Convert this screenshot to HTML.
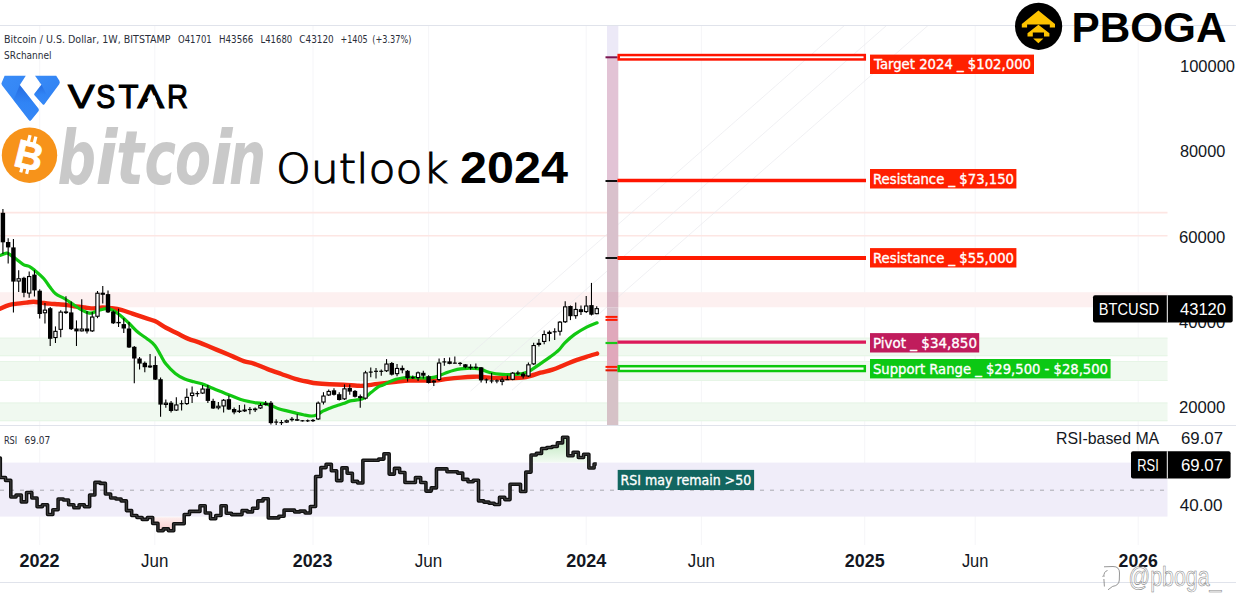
<!DOCTYPE html>
<html><head><meta charset="utf-8"><title>Bitcoin Outlook 2024</title>
<style>
html,body{margin:0;padding:0;background:#fff;}
body{width:1236px;height:616px;overflow:hidden;position:relative;}
svg{position:absolute;left:0;top:0;display:block;}
.t{font-family:"Liberation Sans","Noto Sans CJK SC",sans-serif;}
.leg{font-size:10.5px;fill:#2a2e39;font-family:"DejaVu Sans","Liberation Sans",sans-serif;}
.ax{font-size:17px;fill:#131722;}
.tm{font-size:18px;fill:#131722;}
.yr{font-weight:bold;}
.lab{font-size:13.5px;fill:#fff;stroke:#fff;stroke-width:0.35;font-family:"DejaVu Sans","Liberation Sans",sans-serif;}
</style></head>
<body>
<svg width="1236" height="616" viewBox="0 0 1236 616">
<line x1="39.7" y1="25" x2="39.7" y2="545" stroke="#f5f5f8" stroke-width="1"/>
<line x1="154.8" y1="25" x2="154.8" y2="545" stroke="#f5f5f8" stroke-width="1"/>
<line x1="313" y1="25" x2="313" y2="545" stroke="#f5f5f8" stroke-width="1"/>
<line x1="428.6" y1="25" x2="428.6" y2="545" stroke="#f5f5f8" stroke-width="1"/>
<line x1="586.2" y1="25" x2="586.2" y2="545" stroke="#f5f5f8" stroke-width="1"/>
<line x1="701.4" y1="25" x2="701.4" y2="545" stroke="#f5f5f8" stroke-width="1"/>
<line x1="864.7" y1="25" x2="864.7" y2="545" stroke="#f5f5f8" stroke-width="1"/>
<line x1="975.2" y1="25" x2="975.2" y2="545" stroke="#f5f5f8" stroke-width="1"/>
<line x1="1138.2" y1="25" x2="1138.2" y2="545" stroke="#f5f5f8" stroke-width="1"/>
<line x1="0" y1="212.6" x2="1167.5" y2="212.6" stroke="#fde6e3" stroke-width="1.6"/>
<line x1="0" y1="235.7" x2="1167.5" y2="235.7" stroke="#fde6e3" stroke-width="1.6"/>
<rect x="0" y="292.2" width="1167.5" height="15.1" fill="#fdf0f0"/>
<rect x="0" y="337.7" width="1167.5" height="18.5" fill="#f0f9f0"/>
<line x1="0" y1="338.2" x2="1167.5" y2="338.2" stroke="#e6f5e6" stroke-width="1"/>
<line x1="0" y1="355.7" x2="1167.5" y2="355.7" stroke="#e6f5e6" stroke-width="1"/>
<rect x="0" y="361" width="1167.5" height="20.0" fill="#f0f9f0"/>
<line x1="0" y1="361.5" x2="1167.5" y2="361.5" stroke="#e6f5e6" stroke-width="1"/>
<line x1="0" y1="380.5" x2="1167.5" y2="380.5" stroke="#e6f5e6" stroke-width="1"/>
<rect x="0" y="402.5" width="1167.5" height="18.7" fill="#f0f9f0"/>
<line x1="0" y1="403.0" x2="1167.5" y2="403.0" stroke="#e6f5e6" stroke-width="1"/>
<line x1="0" y1="420.7" x2="1167.5" y2="420.7" stroke="#e6f5e6" stroke-width="1"/>
<line x1="427.8" y1="391.7" x2="844.4" y2="25.5" stroke="#e9e9ee" stroke-width="0.7"/>
<line x1="470.6" y1="391" x2="886.5" y2="25.5" stroke="#e9e9ee" stroke-width="0.7"/>
<line x1="512" y1="390.2" x2="928" y2="25.5" stroke="#e9e9ee" stroke-width="0.7"/>
<rect x="607" y="25.5" width="11.3" height="31.5" fill="#ece9f7"/>
<rect x="607" y="57" width="11.3" height="123.5" fill="#e2c3d5"/>
<rect x="607" y="180.5" width="11.3" height="111.5" fill="#d9c1cc"/>
<rect x="607" y="292" width="11.3" height="15.3" fill="#d9b6c4"/>
<rect x="607" y="307.3" width="11.3" height="10.7" fill="#d9c1cc"/>
<rect x="607" y="318" width="11.3" height="54.0" fill="#e0a8bb"/>
<rect x="607" y="372" width="11.3" height="53.0" fill="#d6c2c7"/>
<line x1="605.5" y1="57.3" x2="617.5" y2="57.3" stroke="#7a1450" stroke-width="2"/>
<line x1="605.5" y1="181" x2="617.5" y2="181" stroke="#111111" stroke-width="2"/>
<line x1="605.5" y1="258" x2="617.5" y2="258" stroke="#111111" stroke-width="2"/>
<line x1="605.5" y1="316.9" x2="617.5" y2="316.9" stroke="#ff1a00" stroke-width="2"/>
<line x1="605.5" y1="319.9" x2="617.5" y2="319.9" stroke="#ff1a00" stroke-width="2"/>
<line x1="605.5" y1="343" x2="617.5" y2="343" stroke="#19c819" stroke-width="2.2"/>
<line x1="605.5" y1="366.9" x2="617.5" y2="366.9" stroke="#ff1a00" stroke-width="2"/>
<line x1="605.5" y1="370.3" x2="617.5" y2="370.3" stroke="#e01a00" stroke-width="2"/>
<rect x="618.7" y="55.05" width="246.1" height="4.4" fill="#fff" stroke="#ff1400" stroke-width="2.5"/>
<line x1="617.5" y1="180.5" x2="866" y2="180.5" stroke="#ff1400" stroke-width="3.6"/>
<line x1="617.5" y1="258" x2="866" y2="258" stroke="#ff1a00" stroke-width="3.8"/>
<line x1="617.5" y1="342.1" x2="866" y2="342.1" stroke="#dc1a5a" stroke-width="3.4"/>
<rect x="618.7" y="366.2" width="246.1" height="4.8" fill="#fff" stroke="#0cc80c" stroke-width="2.5"/>
<path d="M0,308.7 C1.47,308.1 5.88,305.95 8.8,305.1 C11.72,304.25 14.58,304.02 17.5,303.6 C20.42,303.18 23.62,302.9 26.3,302.6 C28.98,302.3 31.17,301.8 33.6,301.8 C36.03,301.8 38.22,302.3 40.9,302.6 C43.58,302.9 46.77,303.32 49.7,303.6 C52.63,303.88 55.57,304.05 58.5,304.3 C61.43,304.55 64.38,304.73 67.3,305.1 C70.22,305.47 73.08,306.1 76,306.5 C78.92,306.9 81.87,307.18 84.8,307.5 C87.73,307.82 90.68,308.4 93.6,308.4 C96.52,308.4 99.38,307.53 102.3,307.5 C105.22,307.47 107.95,307.8 111.1,308.2 C114.25,308.6 117.65,308.98 121.2,309.9 C124.75,310.82 128.67,312.45 132.4,313.7 C136.13,314.95 139.87,316.17 143.6,317.4 C147.33,318.63 151.07,319.38 154.8,321.1 C158.53,322.82 162.27,325.67 166,327.7 C169.73,329.73 173.47,331.43 177.2,333.3 C180.93,335.17 184.67,337.35 188.4,338.9 C192.13,340.45 195.87,341.2 199.6,342.6 C203.33,344 207.07,345.75 210.8,347.3 C214.53,348.85 218.27,350.35 222,351.9 C225.73,353.45 229.47,355.03 233.2,356.6 C236.93,358.17 240.97,360.13 244.4,361.3 C247.83,362.47 249.93,362.3 253.8,363.6 C257.67,364.9 263,367.37 267.6,369.1 C272.2,370.83 276.8,372.38 281.4,374 C286,375.62 290.6,377.47 295.2,378.8 C299.8,380.13 305.55,381.25 309,382 C312.45,382.75 312.45,382.92 315.9,383.3 C319.35,383.68 325.12,384.07 329.7,384.3 C334.28,384.53 338.82,384.47 343.4,384.7 C347.98,384.93 353.75,385.53 357.2,385.7 C360.65,385.87 360.65,386 364.1,385.7 C367.55,385.4 372.6,384.53 377.9,383.9 C383.2,383.27 390.75,382.45 395.9,381.9 C401.05,381.35 404.48,380.82 408.8,380.6 C413.12,380.38 417.48,380.6 421.8,380.6 C426.12,380.6 430.38,380.88 434.7,380.6 C439.02,380.32 443.38,379.4 447.7,378.9 C452.02,378.4 456.28,377.97 460.6,377.6 C464.92,377.23 470.37,376.85 473.6,376.7 C476.83,376.55 477.85,376.58 480,376.7 C482.15,376.82 483.27,377.18 486.5,377.4 C489.73,377.62 495.08,377.9 499.4,378 C503.72,378.1 508.6,378.07 512.4,378 C516.2,377.93 519.15,377.97 522.2,377.6 C525.25,377.23 527.65,376.62 530.7,375.8 C533.75,374.98 536.85,373.72 540.5,372.7 C544.15,371.68 548.55,371.02 552.6,369.7 C556.65,368.38 560.73,366.43 564.8,364.8 C568.87,363.17 572.93,361.37 577,359.9 C581.07,358.43 585.85,357.05 589.2,356 C592.55,354.95 595.78,354 597.1,353.6" fill="none" stroke="#f5280f" stroke-width="4.4" stroke-linecap="round" stroke-linejoin="round"/>
<path d="M0,255.4 C1.1,255.03 5.13,253.45 6.6,253.2 C8.07,252.95 7.22,252.93 8.8,253.9 C10.38,254.87 13.67,257.22 16.1,259 C18.53,260.78 21.22,263.38 23.4,264.6 C25.58,265.82 27.25,265.28 29.2,266.3 C31.15,267.32 32.65,268.63 35.1,270.7 C37.55,272.77 41.47,276.02 43.9,278.7 C46.33,281.38 47.75,284.28 49.7,286.8 C51.65,289.32 53.17,291.85 55.6,293.8 C58.03,295.75 61.38,296.75 64.3,298.5 C67.22,300.25 70.17,302.35 73.1,304.3 C76.03,306.25 79.22,308.73 81.9,310.2 C84.58,311.67 87.25,312.73 89.2,313.1 C91.15,313.47 91.9,312.88 93.6,312.4 C95.3,311.92 96.97,310.82 99.4,310.2 C101.83,309.58 105.27,308.25 108.2,308.7 C111.13,309.15 113.58,310.52 117,312.9 C120.42,315.28 125.2,319.77 128.7,323 C132.2,326.23 134.9,329.65 138,332.3 C141.1,334.95 144.5,336.72 147.3,338.9 C150.1,341.08 152.62,342.77 154.8,345.4 C156.98,348.03 158.53,351.58 160.4,354.7 C162.27,357.82 163.52,360.98 166,364.1 C168.48,367.22 172.18,370.92 175.3,373.4 C178.42,375.88 181.58,377.6 184.7,379 C187.82,380.4 190.9,380.93 194,381.8 C197.1,382.67 200.18,383.12 203.3,384.2 C206.42,385.28 209.58,386.98 212.7,388.3 C215.82,389.62 218.9,390.85 222,392.1 C225.1,393.35 228.18,394.57 231.3,395.8 C234.42,397.03 237.58,398.5 240.7,399.5 C243.82,400.5 247.35,401.23 250,401.8 C252.65,402.37 254.13,402.6 256.6,402.9 C259.07,403.2 262.28,403.13 264.8,403.6 C267.32,404.07 269.4,404.85 271.7,405.7 C274,406.55 276.07,407.83 278.6,408.7 C281.13,409.57 284.13,410.2 286.9,410.9 C289.67,411.6 292.45,412.27 295.2,412.9 C297.95,413.53 300.65,414.18 303.4,414.7 C306.15,415.22 309.4,416 311.7,416 C314,416 315.35,415.5 317.2,414.7 C319.05,413.9 320.72,412.28 322.8,411.2 C324.88,410.12 327.4,409.12 329.7,408.2 C332,407.28 334.32,406.47 336.6,405.7 C338.88,404.93 341.12,404.4 343.4,403.6 C345.68,402.8 348,401.52 350.3,400.9 C352.6,400.28 354.9,400.37 357.2,399.9 C359.5,399.43 361.8,399.32 364.1,398.1 C366.4,396.88 368.7,394.43 371,392.6 C373.3,390.77 375.92,388.35 377.9,387.1 C379.88,385.85 380.98,385.97 382.9,385.1 C384.82,384.23 387.23,382.87 389.4,381.9 C391.57,380.93 393.73,379.95 395.9,379.3 C398.07,378.65 400.25,378.32 402.4,378 C404.55,377.68 406.65,377.47 408.8,377.4 C410.95,377.33 413.13,377.5 415.3,377.6 C417.47,377.7 419.63,377.93 421.8,378 C423.97,378.07 426.15,378.15 428.3,378 C430.45,377.85 432.55,377.63 434.7,377.1 C436.85,376.57 439.03,375.62 441.2,374.8 C443.37,373.98 445.55,372.97 447.7,372.2 C449.85,371.43 451.95,370.75 454.1,370.2 C456.25,369.65 458.43,369.22 460.6,368.9 C462.77,368.58 464.93,368.4 467.1,368.3 C469.27,368.2 471.45,368.2 473.6,368.3 C475.75,368.4 477.85,368.37 480,368.9 C482.15,369.43 484.33,370.78 486.5,371.5 C488.67,372.22 490.85,372.77 493,373.2 C495.15,373.63 497.25,373.88 499.4,374.1 C501.55,374.32 503.73,374.43 505.9,374.5 C508.07,374.57 510.23,374.57 512.4,374.5 C514.57,374.43 516.75,374.38 518.9,374.1 C521.05,373.82 523.33,373.43 525.3,372.8 C527.27,372.17 528.17,371.83 530.7,370.3 C533.23,368.77 537.25,365.83 540.5,363.6 C543.75,361.37 547.17,359.13 550.2,356.9 C553.23,354.67 556.27,352.53 558.7,350.2 C561.13,347.87 562.15,345.53 564.8,342.9 C567.45,340.27 570.95,337.03 574.6,334.4 C578.25,331.77 582.95,329.03 586.7,327.1 C590.45,325.17 595.37,323.52 597.1,322.8" fill="none" stroke="#12c812" stroke-width="3.2" stroke-linecap="round" stroke-linejoin="round"/>
<line x1="2.92" y1="209" x2="2.92" y2="254" stroke="#000" stroke-width="1.1"/>
<rect x="0.72" y="212.8" width="4.4" height="29.5" fill="#000"/>
<line x1="8.17" y1="238.2" x2="8.17" y2="263.5" stroke="#000" stroke-width="1.1"/>
<rect x="5.97" y="242" width="4.4" height="5.4" fill="#000"/>
<line x1="13.43" y1="239" x2="13.43" y2="312.6" stroke="#000" stroke-width="1.1"/>
<rect x="11.23" y="247.4" width="4.4" height="34.2" fill="#000"/>
<line x1="18.68" y1="270.2" x2="18.68" y2="292.1" stroke="#000" stroke-width="1.1"/>
<rect x="17.03" y="278.75" width="3.3" height="2.3" fill="#fff" stroke="#000" stroke-width="1.1"/>
<line x1="23.94" y1="276.8" x2="23.94" y2="297.2" stroke="#000" stroke-width="1.1"/>
<rect x="21.74" y="277.8" width="4.4" height="15" fill="#000"/>
<line x1="29.19" y1="271.4" x2="29.19" y2="297.7" stroke="#000" stroke-width="1.1"/>
<rect x="27.54" y="276.55" width="3.3" height="16.5" fill="#fff" stroke="#000" stroke-width="1.1"/>
<line x1="34.45" y1="270.2" x2="34.45" y2="296.5" stroke="#000" stroke-width="1.1"/>
<rect x="32.24" y="274.6" width="4.4" height="15.8" fill="#000"/>
<line x1="39.7" y1="289.2" x2="39.7" y2="318.4" stroke="#000" stroke-width="1.1"/>
<rect x="37.5" y="290.7" width="4.4" height="23.3" fill="#000"/>
<line x1="44.96" y1="303" x2="44.96" y2="323.5" stroke="#000" stroke-width="1.1"/>
<rect x="43.31" y="310.15" width="3.3" height="2.6" fill="#fff" stroke="#000" stroke-width="1.1"/>
<line x1="50.21" y1="307" x2="50.21" y2="346.1" stroke="#000" stroke-width="1.1"/>
<rect x="48.01" y="308.2" width="4.4" height="30.6" fill="#000"/>
<line x1="55.47" y1="326.4" x2="55.47" y2="343" stroke="#000" stroke-width="1.1"/>
<rect x="53.82" y="331.35" width="3.3" height="6.2" fill="#fff" stroke="#000" stroke-width="1.1"/>
<line x1="60.72" y1="310.2" x2="60.72" y2="337.2" stroke="#000" stroke-width="1.1"/>
<rect x="59.07" y="312.15" width="3.3" height="17.2" fill="#fff" stroke="#000" stroke-width="1.1"/>
<line x1="65.97" y1="296.3" x2="65.97" y2="314" stroke="#000" stroke-width="1.1"/>
<rect x="63.77" y="311.4" width="4.4" height="1.7" fill="#000"/>
<line x1="71.23" y1="301.4" x2="71.23" y2="330" stroke="#000" stroke-width="1.1"/>
<rect x="69.03" y="312.4" width="4.4" height="16.8" fill="#000"/>
<line x1="76.48" y1="320.4" x2="76.48" y2="346" stroke="#000" stroke-width="1.1"/>
<rect x="74.28" y="328.5" width="4.4" height="2.9" fill="#000"/>
<line x1="81.74" y1="299.2" x2="81.74" y2="331.4" stroke="#000" stroke-width="1.1"/>
<rect x="80.09" y="329.05" width="3.3" height="1.8" fill="#fff" stroke="#000" stroke-width="1.1"/>
<line x1="87" y1="311" x2="87" y2="333.6" stroke="#000" stroke-width="1.1"/>
<rect x="84.8" y="328.5" width="4.4" height="2.9" fill="#000"/>
<line x1="92.25" y1="312" x2="92.25" y2="332" stroke="#000" stroke-width="1.1"/>
<rect x="90.6" y="317.05" width="3.3" height="13.8" fill="#fff" stroke="#000" stroke-width="1.1"/>
<line x1="97.5" y1="291" x2="97.5" y2="318.2" stroke="#000" stroke-width="1.1"/>
<rect x="95.85" y="293.25" width="3.3" height="23" fill="#fff" stroke="#000" stroke-width="1.1"/>
<line x1="102.76" y1="286" x2="102.76" y2="303.6" stroke="#000" stroke-width="1.1"/>
<rect x="100.56" y="292.7" width="4.4" height="2.1" fill="#000"/>
<line x1="108.02" y1="290.5" x2="108.02" y2="313" stroke="#000" stroke-width="1.1"/>
<rect x="105.81" y="294.1" width="4.4" height="18.3" fill="#000"/>
<line x1="113.27" y1="310.5" x2="113.27" y2="324" stroke="#000" stroke-width="1.1"/>
<rect x="111.07" y="311.6" width="4.4" height="11.7" fill="#000"/>
<line x1="118.53" y1="308.7" x2="118.53" y2="327" stroke="#000" stroke-width="1.1"/>
<rect x="116.33" y="321.9" width="4.4" height="1.4" fill="#000"/>
<line x1="123.78" y1="318.3" x2="123.78" y2="332.9" stroke="#000" stroke-width="1.1"/>
<rect x="121.58" y="324.1" width="4.4" height="4.4" fill="#000"/>
<line x1="129.03" y1="321.9" x2="129.03" y2="348" stroke="#000" stroke-width="1.1"/>
<rect x="126.83" y="328.5" width="4.4" height="19" fill="#000"/>
<line x1="134.29" y1="346" x2="134.29" y2="383.3" stroke="#000" stroke-width="1.1"/>
<rect x="132.09" y="346.8" width="4.4" height="11.7" fill="#000"/>
<line x1="139.55" y1="357" x2="139.55" y2="369.4" stroke="#000" stroke-width="1.1"/>
<rect x="137.35" y="358.5" width="4.4" height="5.1" fill="#000"/>
<line x1="144.8" y1="361.4" x2="144.8" y2="372.3" stroke="#000" stroke-width="1.1"/>
<rect x="142.6" y="362.8" width="4.4" height="4.4" fill="#000"/>
<line x1="150.06" y1="354" x2="150.06" y2="368" stroke="#000" stroke-width="1.1"/>
<rect x="148.41" y="366.05" width="3.3" height="0.9" fill="#fff" stroke="#000" stroke-width="1.1"/>
<line x1="155.31" y1="356.3" x2="155.31" y2="380" stroke="#000" stroke-width="1.1"/>
<rect x="153.11" y="365" width="4.4" height="14.6" fill="#000"/>
<line x1="160.56" y1="377.4" x2="160.56" y2="416.8" stroke="#000" stroke-width="1.1"/>
<rect x="158.37" y="379.2" width="4.4" height="25.4" fill="#000"/>
<line x1="165.82" y1="399.5" x2="165.82" y2="407.8" stroke="#000" stroke-width="1.1"/>
<rect x="164.17" y="403.15" width="3.3" height="1.3" fill="#fff" stroke="#000" stroke-width="1.1"/>
<line x1="171.07" y1="400.9" x2="171.07" y2="412.6" stroke="#000" stroke-width="1.1"/>
<rect x="168.88" y="402.7" width="4.4" height="8.3" fill="#000"/>
<line x1="176.33" y1="397.2" x2="176.33" y2="411" stroke="#000" stroke-width="1.1"/>
<rect x="174.68" y="404.95" width="3.3" height="5.1" fill="#fff" stroke="#000" stroke-width="1.1"/>
<line x1="181.58" y1="400.2" x2="181.58" y2="410.6" stroke="#000" stroke-width="1.1"/>
<line x1="179.58" y1="403.7" x2="183.58" y2="403.7" stroke="#000" stroke-width="1.2"/>
<line x1="186.84" y1="388.5" x2="186.84" y2="405" stroke="#000" stroke-width="1.1"/>
<rect x="185.19" y="397.35" width="3.3" height="6.2" fill="#fff" stroke="#000" stroke-width="1.1"/>
<line x1="192.1" y1="386.4" x2="192.1" y2="403" stroke="#000" stroke-width="1.1"/>
<rect x="190.45" y="393.15" width="3.3" height="2.4" fill="#fff" stroke="#000" stroke-width="1.1"/>
<line x1="197.35" y1="391.3" x2="197.35" y2="396.8" stroke="#000" stroke-width="1.1"/>
<line x1="195.35" y1="393.6" x2="199.35" y2="393.6" stroke="#000" stroke-width="1.2"/>
<line x1="202.61" y1="385" x2="202.61" y2="394" stroke="#000" stroke-width="1.1"/>
<rect x="200.96" y="389.05" width="3.3" height="4" fill="#fff" stroke="#000" stroke-width="1.1"/>
<line x1="207.86" y1="385" x2="207.86" y2="403" stroke="#000" stroke-width="1.1"/>
<rect x="205.66" y="388.5" width="4.4" height="12.4" fill="#000"/>
<line x1="213.12" y1="398.8" x2="213.12" y2="409" stroke="#000" stroke-width="1.1"/>
<rect x="210.92" y="400.9" width="4.4" height="7.6" fill="#000"/>
<line x1="218.37" y1="402" x2="218.37" y2="409.5" stroke="#000" stroke-width="1.1"/>
<rect x="216.72" y="406.25" width="3.3" height="1.5" fill="#fff" stroke="#000" stroke-width="1.1"/>
<line x1="223.62" y1="399" x2="223.62" y2="412.4" stroke="#000" stroke-width="1.1"/>
<rect x="221.97" y="400.25" width="3.3" height="5.7" fill="#fff" stroke="#000" stroke-width="1.1"/>
<line x1="228.88" y1="395.5" x2="228.88" y2="410" stroke="#000" stroke-width="1.1"/>
<rect x="226.68" y="399.2" width="4.4" height="10.3" fill="#000"/>
<line x1="234.13" y1="407.5" x2="234.13" y2="414.3" stroke="#000" stroke-width="1.1"/>
<rect x="231.94" y="409" width="4.4" height="3.4" fill="#000"/>
<line x1="239.39" y1="405" x2="239.39" y2="413" stroke="#000" stroke-width="1.1"/>
<rect x="237.74" y="411.05" width="3.3" height="0.4" fill="#fff" stroke="#000" stroke-width="1.1"/>
<line x1="244.64" y1="404.6" x2="244.64" y2="412" stroke="#000" stroke-width="1.1"/>
<rect x="242.99" y="410.05" width="3.3" height="0.8" fill="#fff" stroke="#000" stroke-width="1.1"/>
<line x1="249.9" y1="407" x2="249.9" y2="414.3" stroke="#000" stroke-width="1.1"/>
<line x1="247.9" y1="409.5" x2="251.9" y2="409.5" stroke="#000" stroke-width="1.2"/>
<line x1="255.15" y1="407.5" x2="255.15" y2="412" stroke="#000" stroke-width="1.1"/>
<rect x="253.5" y="409.05" width="3.3" height="0.6" fill="#fff" stroke="#000" stroke-width="1.1"/>
<line x1="260.41" y1="403" x2="260.41" y2="409" stroke="#000" stroke-width="1.1"/>
<rect x="258.76" y="405.55" width="3.3" height="2.4" fill="#fff" stroke="#000" stroke-width="1.1"/>
<line x1="265.67" y1="401" x2="265.67" y2="405.5" stroke="#000" stroke-width="1.1"/>
<rect x="264.02" y="403.65" width="3.3" height="0.8" fill="#fff" stroke="#000" stroke-width="1.1"/>
<line x1="270.92" y1="401" x2="270.92" y2="424.6" stroke="#000" stroke-width="1.1"/>
<rect x="268.72" y="402.7" width="4.4" height="20.4" fill="#000"/>
<line x1="276.18" y1="419.2" x2="276.18" y2="425" stroke="#000" stroke-width="1.1"/>
<line x1="274.18" y1="422.1" x2="278.18" y2="422.1" stroke="#000" stroke-width="1.2"/>
<line x1="281.43" y1="420" x2="281.43" y2="425" stroke="#000" stroke-width="1.1"/>
<line x1="279.43" y1="422.6" x2="283.43" y2="422.6" stroke="#000" stroke-width="1.2"/>
<line x1="286.69" y1="419.5" x2="286.69" y2="423" stroke="#000" stroke-width="1.1"/>
<rect x="285.04" y="420.75" width="3.3" height="1.3" fill="#fff" stroke="#000" stroke-width="1.1"/>
<line x1="291.94" y1="417" x2="291.94" y2="421.5" stroke="#000" stroke-width="1.1"/>
<rect x="290.29" y="419.25" width="3.3" height="0.4" fill="#fff" stroke="#000" stroke-width="1.1"/>
<line x1="297.19" y1="414.3" x2="297.19" y2="421" stroke="#000" stroke-width="1.1"/>
<rect x="295" y="419.2" width="4.4" height="1.5" fill="#000"/>
<line x1="302.45" y1="420" x2="302.45" y2="421.5" stroke="#000" stroke-width="1.1"/>
<line x1="300.45" y1="420.8" x2="304.45" y2="420.8" stroke="#000" stroke-width="1.2"/>
<line x1="307.7" y1="419.5" x2="307.7" y2="422" stroke="#000" stroke-width="1.1"/>
<line x1="305.7" y1="420.8" x2="309.7" y2="420.8" stroke="#000" stroke-width="1.2"/>
<line x1="312.96" y1="419" x2="312.96" y2="422" stroke="#000" stroke-width="1.1"/>
<rect x="311.31" y="420.45" width="3.3" height="0.2" fill="#fff" stroke="#000" stroke-width="1.1"/>
<line x1="318.21" y1="401.5" x2="318.21" y2="420" stroke="#000" stroke-width="1.1"/>
<rect x="316.56" y="403.15" width="3.3" height="15.8" fill="#fff" stroke="#000" stroke-width="1.1"/>
<line x1="323.47" y1="392.2" x2="323.47" y2="404.5" stroke="#000" stroke-width="1.1"/>
<rect x="321.82" y="396.05" width="3.3" height="6" fill="#fff" stroke="#000" stroke-width="1.1"/>
<line x1="328.72" y1="389.5" x2="328.72" y2="396" stroke="#000" stroke-width="1.1"/>
<rect x="327.07" y="391.45" width="3.3" height="3.5" fill="#fff" stroke="#000" stroke-width="1.1"/>
<line x1="333.98" y1="388.3" x2="333.98" y2="395.5" stroke="#000" stroke-width="1.1"/>
<rect x="331.78" y="390.3" width="4.4" height="4.5" fill="#000"/>
<line x1="339.23" y1="392.2" x2="339.23" y2="400.6" stroke="#000" stroke-width="1.1"/>
<rect x="337.03" y="394.2" width="4.4" height="5.8" fill="#000"/>
<line x1="344.49" y1="384.4" x2="344.49" y2="400" stroke="#000" stroke-width="1.1"/>
<rect x="342.84" y="388.85" width="3.3" height="10" fill="#fff" stroke="#000" stroke-width="1.1"/>
<line x1="349.75" y1="384.4" x2="349.75" y2="394.8" stroke="#000" stroke-width="1.1"/>
<rect x="347.55" y="388" width="4.4" height="3.6" fill="#000"/>
<line x1="355" y1="390" x2="355" y2="397.5" stroke="#000" stroke-width="1.1"/>
<rect x="352.8" y="390.9" width="4.4" height="5.9" fill="#000"/>
<line x1="360.25" y1="394.5" x2="360.25" y2="407.8" stroke="#000" stroke-width="1.1"/>
<rect x="358.06" y="396.1" width="4.4" height="1.9" fill="#000"/>
<line x1="365.51" y1="370.8" x2="365.51" y2="399.5" stroke="#000" stroke-width="1.1"/>
<rect x="363.86" y="372.85" width="3.3" height="25.3" fill="#fff" stroke="#000" stroke-width="1.1"/>
<line x1="370.76" y1="367.4" x2="370.76" y2="377.2" stroke="#000" stroke-width="1.1"/>
<line x1="368.76" y1="372.1" x2="372.76" y2="372.1" stroke="#000" stroke-width="1.2"/>
<line x1="376.02" y1="367.9" x2="376.02" y2="378.6" stroke="#000" stroke-width="1.1"/>
<line x1="374.02" y1="371.3" x2="378.02" y2="371.3" stroke="#000" stroke-width="1.2"/>
<line x1="381.27" y1="369.4" x2="381.27" y2="375.7" stroke="#000" stroke-width="1.1"/>
<line x1="379.27" y1="371.3" x2="383.27" y2="371.3" stroke="#000" stroke-width="1.2"/>
<line x1="386.53" y1="359.1" x2="386.53" y2="372" stroke="#000" stroke-width="1.1"/>
<rect x="384.88" y="364.05" width="3.3" height="6.7" fill="#fff" stroke="#000" stroke-width="1.1"/>
<line x1="391.78" y1="362" x2="391.78" y2="375.5" stroke="#000" stroke-width="1.1"/>
<rect x="389.58" y="363" width="4.4" height="11.7" fill="#000"/>
<line x1="397.04" y1="364" x2="397.04" y2="376.2" stroke="#000" stroke-width="1.1"/>
<rect x="395.39" y="368.45" width="3.3" height="5.2" fill="#fff" stroke="#000" stroke-width="1.1"/>
<line x1="402.29" y1="365.5" x2="402.29" y2="373.3" stroke="#000" stroke-width="1.1"/>
<rect x="400.09" y="367.9" width="4.4" height="2.4" fill="#000"/>
<line x1="407.55" y1="370" x2="407.55" y2="381.5" stroke="#000" stroke-width="1.1"/>
<rect x="405.35" y="370.8" width="4.4" height="7.3" fill="#000"/>
<line x1="412.81" y1="375.5" x2="412.81" y2="379" stroke="#000" stroke-width="1.1"/>
<line x1="410.81" y1="377.7" x2="414.81" y2="377.7" stroke="#000" stroke-width="1.2"/>
<line x1="418.06" y1="371.5" x2="418.06" y2="381" stroke="#000" stroke-width="1.1"/>
<rect x="416.41" y="372.85" width="3.3" height="4.7" fill="#fff" stroke="#000" stroke-width="1.1"/>
<line x1="423.31" y1="370.8" x2="423.31" y2="378.6" stroke="#000" stroke-width="1.1"/>
<rect x="421.12" y="372.8" width="4.4" height="2.9" fill="#000"/>
<line x1="428.57" y1="375.2" x2="428.57" y2="383.5" stroke="#000" stroke-width="1.1"/>
<rect x="426.37" y="376.2" width="4.4" height="6.8" fill="#000"/>
<line x1="433.82" y1="380" x2="433.82" y2="385.9" stroke="#000" stroke-width="1.1"/>
<rect x="432.18" y="381.15" width="3.3" height="0.8" fill="#fff" stroke="#000" stroke-width="1.1"/>
<line x1="439.08" y1="358.6" x2="439.08" y2="381" stroke="#000" stroke-width="1.1"/>
<rect x="437.43" y="363.05" width="3.3" height="16.5" fill="#fff" stroke="#000" stroke-width="1.1"/>
<line x1="444.33" y1="358" x2="444.33" y2="365.8" stroke="#000" stroke-width="1.1"/>
<line x1="442.33" y1="361.9" x2="446.33" y2="361.9" stroke="#000" stroke-width="1.2"/>
<line x1="449.59" y1="357.5" x2="449.59" y2="364.3" stroke="#000" stroke-width="1.1"/>
<rect x="447.39" y="361.4" width="4.4" height="2.5" fill="#000"/>
<line x1="454.84" y1="356.6" x2="454.84" y2="363.6" stroke="#000" stroke-width="1.1"/>
<line x1="452.84" y1="363.15" x2="456.84" y2="363.15" stroke="#000" stroke-width="1.2"/>
<line x1="460.1" y1="361.9" x2="460.1" y2="365.8" stroke="#000" stroke-width="1.1"/>
<line x1="458.1" y1="363.4" x2="462.1" y2="363.4" stroke="#000" stroke-width="1.2"/>
<line x1="465.35" y1="364" x2="465.35" y2="368.2" stroke="#000" stroke-width="1.1"/>
<rect x="463.15" y="364.3" width="4.4" height="3" fill="#000"/>
<line x1="470.61" y1="364.3" x2="470.61" y2="369.7" stroke="#000" stroke-width="1.1"/>
<rect x="468.41" y="366.8" width="4.4" height="1.4" fill="#000"/>
<line x1="475.86" y1="363.4" x2="475.86" y2="369.2" stroke="#000" stroke-width="1.1"/>
<line x1="473.86" y1="367.3" x2="477.86" y2="367.3" stroke="#000" stroke-width="1.2"/>
<line x1="481.12" y1="367" x2="481.12" y2="382.4" stroke="#000" stroke-width="1.1"/>
<rect x="478.92" y="367.3" width="4.4" height="13.1" fill="#000"/>
<line x1="486.38" y1="378.5" x2="486.38" y2="383.3" stroke="#000" stroke-width="1.1"/>
<line x1="484.38" y1="379.9" x2="488.38" y2="379.9" stroke="#000" stroke-width="1.2"/>
<line x1="491.63" y1="373.1" x2="491.63" y2="383.3" stroke="#000" stroke-width="1.1"/>
<line x1="489.63" y1="380.9" x2="493.63" y2="380.9" stroke="#000" stroke-width="1.2"/>
<line x1="496.88" y1="379.4" x2="496.88" y2="383.3" stroke="#000" stroke-width="1.1"/>
<line x1="494.88" y1="380.9" x2="498.88" y2="380.9" stroke="#000" stroke-width="1.2"/>
<line x1="502.14" y1="377.5" x2="502.14" y2="385.3" stroke="#000" stroke-width="1.1"/>
<rect x="500.49" y="379.95" width="3.3" height="1.4" fill="#fff" stroke="#000" stroke-width="1.1"/>
<line x1="507.39" y1="375.5" x2="507.39" y2="380" stroke="#000" stroke-width="1.1"/>
<line x1="505.39" y1="379.65" x2="509.39" y2="379.65" stroke="#000" stroke-width="1.2"/>
<line x1="512.65" y1="372" x2="512.65" y2="380.2" stroke="#000" stroke-width="1.1"/>
<rect x="511" y="373.15" width="3.3" height="6.2" fill="#fff" stroke="#000" stroke-width="1.1"/>
<line x1="517.9" y1="370.7" x2="517.9" y2="375" stroke="#000" stroke-width="1.1"/>
<line x1="515.9" y1="373.1" x2="519.9" y2="373.1" stroke="#000" stroke-width="1.2"/>
<line x1="523.16" y1="372.1" x2="523.16" y2="378.5" stroke="#000" stroke-width="1.1"/>
<rect x="520.96" y="373.6" width="4.4" height="2.9" fill="#000"/>
<line x1="528.41" y1="362.4" x2="528.41" y2="377" stroke="#000" stroke-width="1.1"/>
<rect x="526.76" y="364.85" width="3.3" height="11.1" fill="#fff" stroke="#000" stroke-width="1.1"/>
<line x1="533.67" y1="342.8" x2="533.67" y2="365" stroke="#000" stroke-width="1.1"/>
<rect x="532.02" y="345.55" width="3.3" height="18.3" fill="#fff" stroke="#000" stroke-width="1.1"/>
<line x1="538.92" y1="339.1" x2="538.92" y2="346.5" stroke="#000" stroke-width="1.1"/>
<rect x="537.27" y="343.35" width="3.3" height="1.1" fill="#fff" stroke="#000" stroke-width="1.1"/>
<line x1="544.18" y1="330.4" x2="544.18" y2="344.2" stroke="#000" stroke-width="1.1"/>
<rect x="542.53" y="334.55" width="3.3" height="6.9" fill="#fff" stroke="#000" stroke-width="1.1"/>
<line x1="549.44" y1="330.4" x2="549.44" y2="341.3" stroke="#000" stroke-width="1.1"/>
<rect x="547.79" y="332.35" width="3.3" height="1.1" fill="#fff" stroke="#000" stroke-width="1.1"/>
<line x1="554.69" y1="328.2" x2="554.69" y2="339.9" stroke="#000" stroke-width="1.1"/>
<line x1="552.69" y1="331.8" x2="556.69" y2="331.8" stroke="#000" stroke-width="1.2"/>
<line x1="559.95" y1="321" x2="559.95" y2="335.5" stroke="#000" stroke-width="1.1"/>
<rect x="558.3" y="322.15" width="3.3" height="9.1" fill="#fff" stroke="#000" stroke-width="1.1"/>
<line x1="565.2" y1="301.2" x2="565.2" y2="323" stroke="#000" stroke-width="1.1"/>
<rect x="563.55" y="306.85" width="3.3" height="14.9" fill="#fff" stroke="#000" stroke-width="1.1"/>
<line x1="570.46" y1="305.5" x2="570.46" y2="320.1" stroke="#000" stroke-width="1.1"/>
<rect x="568.25" y="306" width="4.4" height="10.2" fill="#000"/>
<line x1="575.71" y1="302.6" x2="575.71" y2="318.7" stroke="#000" stroke-width="1.1"/>
<rect x="574.06" y="309.45" width="3.3" height="6.2" fill="#fff" stroke="#000" stroke-width="1.1"/>
<line x1="580.97" y1="305.5" x2="580.97" y2="315" stroke="#000" stroke-width="1.1"/>
<rect x="578.76" y="309.2" width="4.4" height="2.9" fill="#000"/>
<line x1="586.22" y1="296.1" x2="586.22" y2="313" stroke="#000" stroke-width="1.1"/>
<rect x="584.57" y="306.05" width="3.3" height="5.5" fill="#fff" stroke="#000" stroke-width="1.1"/>
<line x1="591.48" y1="282.9" x2="591.48" y2="315.5" stroke="#000" stroke-width="1.1"/>
<rect x="589.27" y="305.1" width="4.4" height="9.6" fill="#000"/>
<line x1="596.73" y1="306.3" x2="596.73" y2="314.3" stroke="#000" stroke-width="1.1"/>
<rect x="595.08" y="308.65" width="3.3" height="5" fill="#fff" stroke="#000" stroke-width="1.1"/>
<line x1="0" y1="25.5" x2="1236" y2="25.5" stroke="#e0e3eb" stroke-width="1"/>
<line x1="0" y1="425.5" x2="1236" y2="425.5" stroke="#e0e3eb" stroke-width="1"/>
<line x1="0" y1="582.5" x2="1236" y2="582.5" stroke="#e0e3eb" stroke-width="1"/>
<rect x="0" y="462.6" width="1167.5" height="54" fill="#f0edf9"/>
<line x1="0" y1="490.2" x2="1167.5" y2="490.2" stroke="#a9a9b0" stroke-width="1" stroke-dasharray="4 6"/>
<defs><linearGradient id="gp" x1="0" y1="0" x2="0" y2="1"><stop offset="0" stop-color="#fdeeee"/><stop offset="1" stop-color="#f8cccc"/></linearGradient><linearGradient id="gg" x1="0" y1="1" x2="0" y2="0"><stop offset="0" stop-color="#f3fbf3"/><stop offset="1" stop-color="#b9e6b9"/></linearGradient></defs>
<path d="M152.68,517.2 L152.68,523.4 L157.94,523.4 L157.94,530.8 L163.19,530.8 L163.19,528.9 L168.45,528.9 L168.45,530.8 L173.7,530.8 L173.7,523.7 L178.96,523.7 L178.96,523.7 L184.21,523.7 L184.21,517.2 Z" fill="url(#gp)"/>
<path d="M531.04,462.6 L531.04,455 L536.3,455 L536.3,453.4 L541.55,453.4 L541.55,448.5 L546.81,448.5 L546.81,447.5 L552.06,447.5 L552.06,446.5 L557.32,446.5 L557.32,442.9 L562.57,442.9 L562.57,437.2 L567.83,437.2 L567.83,455.8 L573.08,455.8 L573.08,452.3 L578.34,452.3 L578.34,457.5 L583.59,457.5 L583.59,454.2 L588.85,454.2 L588.85,462.6 Z" fill="url(#gg)"/>
<path d="M-2,458 L0.29,458 L0.29,477.5 L5.54,477.5 L5.54,480.4 L10.8,480.4 L10.8,497 L16.05,497 L16.05,495 L21.31,495 L21.31,501.9 L26.56,501.9 L26.56,492.5 L31.82,492.5 L31.82,498 L37.07,498 L37.07,506.7 L42.33,506.7 L42.33,504.8 L47.58,504.8 L47.58,514.5 L52.84,514.5 L52.84,509.7 L58.09,509.7 L58.09,499 L63.35,499 L63.35,500 L68.6,500 L68.6,504.8 L73.86,504.8 L73.86,507.7 L79.11,507.7 L79.11,504.8 L84.37,504.8 L84.37,506.7 L89.62,506.7 L89.62,495 L94.88,495 L94.88,482.4 L100.13,482.4 L100.13,483.4 L105.39,483.4 L105.39,494 L110.64,494 L110.64,498 L115.9,498 L115.9,499 L121.15,499 L121.15,500.9 L126.41,500.9 L126.41,510.6 L131.66,510.6 L131.66,515.5 L136.92,515.5 L136.92,517.5 L142.17,517.5 L142.17,519.4 L147.43,519.4 L147.43,517.5 L152.68,517.5 L152.68,523.4 L157.94,523.4 L157.94,530.8 L163.19,530.8 L163.19,528.9 L168.45,528.9 L168.45,530.8 L173.7,530.8 L173.7,523.7 L178.96,523.7 L178.96,523.7 L184.21,523.7 L184.21,514.5 L189.47,514.5 L189.47,511.4 L194.72,511.4 L194.72,511.4 L199.98,511.4 L199.98,505.7 L205.23,505.7 L205.23,513 L210.49,513 L210.49,518.7 L215.74,518.7 L215.74,515.5 L221,515.5 L221,505.7 L226.25,505.7 L226.25,513.3 L231.51,513.3 L231.51,514.6 L236.76,514.6 L236.76,514.6 L242.02,514.6 L242.02,510.6 L247.27,510.6 L247.27,511.9 L252.53,511.9 L252.53,508.2 L257.78,508.2 L257.78,500.9 L263.04,500.9 L263.04,498.7 L268.29,498.7 L268.29,517.9 L273.55,517.9 L273.55,517.9 L278.8,517.9 L278.8,516.3 L284.06,516.3 L284.06,510.1 L289.31,510.1 L289.31,510.1 L294.57,510.1 L294.57,511.9 L299.82,511.9 L299.82,511.1 L305.08,511.1 L305.08,513 L310.33,513 L310.33,506.5 L315.59,506.5 L315.59,476.5 L320.84,476.5 L320.84,467.6 L326.1,467.6 L326.1,464.3 L331.35,464.3 L331.35,470.8 L336.61,470.8 L336.61,480.6 L341.86,480.6 L341.86,467.9 L347.12,467.9 L347.12,473.3 L352.37,473.3 L352.37,481.4 L357.63,481.4 L357.63,483 L362.88,483 L362.88,460.3 L368.14,460.3 L368.14,460.3 L373.39,460.3 L373.39,460.3 L378.65,460.3 L378.65,459.1 L383.9,459.1 L383.9,453.8 L389.16,453.8 L389.16,474.1 L394.41,474.1 L394.41,468.4 L399.67,468.4 L399.67,472.5 L404.92,472.5 L404.92,482.5 L410.18,482.5 L410.18,482.5 L415.43,482.5 L415.43,477.6 L420.69,477.6 L420.69,482.5 L425.94,482.5 L425.94,491.1 L431.2,491.1 L431.2,487.9 L436.45,487.9 L436.45,468.9 L441.71,468.9 L441.71,468.9 L446.96,468.9 L446.96,471.8 L452.22,471.8 L452.22,471.8 L457.47,471.8 L457.47,473.1 L462.73,473.1 L462.73,479.4 L467.98,479.4 L467.98,481.8 L473.24,481.8 L473.24,480.2 L478.49,480.2 L478.49,500.9 L483.75,500.9 L483.75,502.1 L489,502.1 L489,503.2 L494.26,503.2 L494.26,504.5 L499.51,504.5 L499.51,497.2 L504.77,497.2 L504.77,499.6 L510.02,499.6 L510.02,484.2 L515.28,484.2 L515.28,484.2 L520.53,484.2 L520.53,491.5 L525.79,491.5 L525.79,472.1 L531.04,472.1 L531.04,455 L536.3,455 L536.3,453.4 L541.55,453.4 L541.55,448.5 L546.81,448.5 L546.81,447.5 L552.06,447.5 L552.06,446.5 L557.32,446.5 L557.32,442.9 L562.57,442.9 L562.57,437.2 L567.83,437.2 L567.83,455.8 L573.08,455.8 L573.08,452.3 L578.34,452.3 L578.34,457.5 L583.59,457.5 L583.59,454.2 L588.85,454.2 L588.85,468 L594.1,468 L594.1,464 L596.73,464" fill="none" stroke="#111" stroke-width="3.6" stroke-linejoin="round"/>
<path d="M-2,458 L0.29,458 L0.29,477.5 L5.54,477.5 L5.54,480.4 L10.8,480.4 L10.8,497 L16.05,497 L16.05,495 L21.31,495 L21.31,501.9 L26.56,501.9 L26.56,492.5 L31.82,492.5 L31.82,498 L37.07,498 L37.07,506.7 L42.33,506.7 L42.33,504.8 L47.58,504.8 L47.58,514.5 L52.84,514.5 L52.84,509.7 L58.09,509.7 L58.09,499 L63.35,499 L63.35,500 L68.6,500 L68.6,504.8 L73.86,504.8 L73.86,507.7 L79.11,507.7 L79.11,504.8 L84.37,504.8 L84.37,506.7 L89.62,506.7 L89.62,495 L94.88,495 L94.88,482.4 L100.13,482.4 L100.13,483.4 L105.39,483.4 L105.39,494 L110.64,494 L110.64,498 L115.9,498 L115.9,499 L121.15,499 L121.15,500.9 L126.41,500.9 L126.41,510.6 L131.66,510.6 L131.66,515.5 L136.92,515.5 L136.92,517.5 L142.17,517.5 L142.17,519.4 L147.43,519.4 L147.43,517.5 L152.68,517.5 L152.68,523.4 L157.94,523.4 L157.94,530.8 L163.19,530.8 L163.19,528.9 L168.45,528.9 L168.45,530.8 L173.7,530.8 L173.7,523.7 L178.96,523.7 L178.96,523.7 L184.21,523.7 L184.21,514.5 L189.47,514.5 L189.47,511.4 L194.72,511.4 L194.72,511.4 L199.98,511.4 L199.98,505.7 L205.23,505.7 L205.23,513 L210.49,513 L210.49,518.7 L215.74,518.7 L215.74,515.5 L221,515.5 L221,505.7 L226.25,505.7 L226.25,513.3 L231.51,513.3 L231.51,514.6 L236.76,514.6 L236.76,514.6 L242.02,514.6 L242.02,510.6 L247.27,510.6 L247.27,511.9 L252.53,511.9 L252.53,508.2 L257.78,508.2 L257.78,500.9 L263.04,500.9 L263.04,498.7 L268.29,498.7 L268.29,517.9 L273.55,517.9 L273.55,517.9 L278.8,517.9 L278.8,516.3 L284.06,516.3 L284.06,510.1 L289.31,510.1 L289.31,510.1 L294.57,510.1 L294.57,511.9 L299.82,511.9 L299.82,511.1 L305.08,511.1 L305.08,513 L310.33,513 L310.33,506.5 L315.59,506.5 L315.59,476.5 L320.84,476.5 L320.84,467.6 L326.1,467.6 L326.1,464.3 L331.35,464.3 L331.35,470.8 L336.61,470.8 L336.61,480.6 L341.86,480.6 L341.86,467.9 L347.12,467.9 L347.12,473.3 L352.37,473.3 L352.37,481.4 L357.63,481.4 L357.63,483 L362.88,483 L362.88,460.3 L368.14,460.3 L368.14,460.3 L373.39,460.3 L373.39,460.3 L378.65,460.3 L378.65,459.1 L383.9,459.1 L383.9,453.8 L389.16,453.8 L389.16,474.1 L394.41,474.1 L394.41,468.4 L399.67,468.4 L399.67,472.5 L404.92,472.5 L404.92,482.5 L410.18,482.5 L410.18,482.5 L415.43,482.5 L415.43,477.6 L420.69,477.6 L420.69,482.5 L425.94,482.5 L425.94,491.1 L431.2,491.1 L431.2,487.9 L436.45,487.9 L436.45,468.9 L441.71,468.9 L441.71,468.9 L446.96,468.9 L446.96,471.8 L452.22,471.8 L452.22,471.8 L457.47,471.8 L457.47,473.1 L462.73,473.1 L462.73,479.4 L467.98,479.4 L467.98,481.8 L473.24,481.8 L473.24,480.2 L478.49,480.2 L478.49,500.9 L483.75,500.9 L483.75,502.1 L489,502.1 L489,503.2 L494.26,503.2 L494.26,504.5 L499.51,504.5 L499.51,497.2 L504.77,497.2 L504.77,499.6 L510.02,499.6 L510.02,484.2 L515.28,484.2 L515.28,484.2 L520.53,484.2 L520.53,491.5 L525.79,491.5 L525.79,472.1 L531.04,472.1 L531.04,455 L536.3,455 L536.3,453.4 L541.55,453.4 L541.55,448.5 L546.81,448.5 L546.81,447.5 L552.06,447.5 L552.06,446.5 L557.32,446.5 L557.32,442.9 L562.57,442.9 L562.57,437.2 L567.83,437.2 L567.83,455.8 L573.08,455.8 L573.08,452.3 L578.34,452.3 L578.34,457.5 L583.59,457.5 L583.59,454.2 L588.85,454.2 L588.85,468 L594.1,468 L594.1,464 L596.73,464" fill="none" stroke="#3c3c3c" stroke-width="1" stroke-linejoin="round"/>
<!-- legend -->
<g class="t leg">
<text x="4" y="43" textLength="166.5" lengthAdjust="spacingAndGlyphs">Bitcoin / U.S. Dollar, 1W, BITSTAMP</text>
<text x="178" y="43" textLength="33.7" lengthAdjust="spacingAndGlyphs">O41701</text>
<text x="219" y="43" textLength="34.3" lengthAdjust="spacingAndGlyphs">H43566</text>
<text x="260.5" y="43" textLength="31.7" lengthAdjust="spacingAndGlyphs">L41680</text>
<text x="299.3" y="43" textLength="34.4" lengthAdjust="spacingAndGlyphs">C43120</text>
<text x="340.4" y="43" textLength="27.3" lengthAdjust="spacingAndGlyphs">+1405</text>
<text x="372.2" y="43" textLength="39.2" lengthAdjust="spacingAndGlyphs">(+3.37%)</text>
<text x="4" y="58.8" textLength="47.5" lengthAdjust="spacingAndGlyphs">SRchannel</text>
<text x="3.9" y="443.8" textLength="13.3" lengthAdjust="spacingAndGlyphs">RSI</text>
<text x="24.4" y="443.8" textLength="25.9" lengthAdjust="spacingAndGlyphs">69.07</text>
</g>
<!-- price axis -->
<g class="t ax">
<text x="1180" y="72.4" textLength="55" lengthAdjust="spacingAndGlyphs">100000</text>
<text x="1180" y="156.8" textLength="45.3" lengthAdjust="spacingAndGlyphs">80000</text>
<text x="1179" y="243.4" textLength="46.3" lengthAdjust="spacingAndGlyphs">60000</text>
<text x="1179" y="327.9" textLength="46.3" lengthAdjust="spacingAndGlyphs">40000</text>
<text x="1179" y="413.4" textLength="46.3" lengthAdjust="spacingAndGlyphs">20000</text>
<text x="1056" y="444.1" textLength="103.2" lengthAdjust="spacingAndGlyphs">RSI-based MA</text>
<text x="1181" y="444.1" textLength="42" lengthAdjust="spacingAndGlyphs">69.07</text>
<text x="1179.8" y="510.7" textLength="42.6" lengthAdjust="spacingAndGlyphs">40.00</text>
</g>
<!-- BTCUSD label -->
<rect x="1093" y="295.2" width="139.7" height="27.3" rx="2" fill="#000"/>
<line x1="1167.3" y1="295.2" x2="1167.3" y2="322.5" stroke="#fff" stroke-width="1"/>
<g class="t ax" style="fill:#fff">
<text x="1098.8" y="315.3" textLength="60.2" lengthAdjust="spacingAndGlyphs">BTCUSD</text>
<text x="1180" y="315.3" textLength="46" lengthAdjust="spacingAndGlyphs">43120</text>
</g>
<!-- RSI label -->
<rect x="1131" y="451.2" width="99.6" height="27.3" rx="2" fill="#000"/>
<line x1="1167.3" y1="451.2" x2="1167.3" y2="478.5" stroke="#fff" stroke-width="1"/>
<g class="t ax" style="fill:#fff">
<text x="1137.3" y="471.3" textLength="21.4" lengthAdjust="spacingAndGlyphs">RSI</text>
<text x="1181" y="471.3" textLength="42" lengthAdjust="spacingAndGlyphs">69.07</text>
</g>
<!-- time axis -->
<g class="t tm">
<text class="yr" x="19.4" y="567.2" textLength="40.1" lengthAdjust="spacingAndGlyphs">2022</text>
<text x="141" y="567.2" textLength="27.3" lengthAdjust="spacingAndGlyphs">Jun</text>
<text class="yr" x="292.8" y="567.2" textLength="39.6" lengthAdjust="spacingAndGlyphs">2023</text>
<text x="414.8" y="567.2" textLength="27.5" lengthAdjust="spacingAndGlyphs">Jun</text>
<text class="yr" x="566.2" y="567.2" textLength="40" lengthAdjust="spacingAndGlyphs">2024</text>
<text x="687.8" y="567.2" textLength="27.2" lengthAdjust="spacingAndGlyphs">Jun</text>
<text class="yr" x="844.8" y="567.2" textLength="39.9" lengthAdjust="spacingAndGlyphs">2025</text>
<text x="961.9" y="567.2" textLength="26.5" lengthAdjust="spacingAndGlyphs">Jun</text>
<text class="yr" x="1118.6" y="567.2" textLength="39.3" lengthAdjust="spacingAndGlyphs">2026</text>
</g>
<!-- level labels -->
<rect x="870" y="54.6" width="164" height="19.4" fill="#ff2000"/>
<rect x="870" y="169" width="146.4" height="19.5" fill="#ff2000"/>
<rect x="870" y="248.1" width="146.4" height="19.4" fill="#ff2000"/>
<rect x="870" y="333.1" width="109.2" height="19.4" fill="#c01c5c"/>
<rect x="870" y="359" width="240.6" height="19.4" fill="#0cc814"/>
<g class="t lab">
<text x="874" y="69.2" textLength="157" lengthAdjust="spacingAndGlyphs">Target 2024 _ $102,000</text>
<text x="873" y="184" textLength="141" lengthAdjust="spacingAndGlyphs">Resistance _ $73,150</text>
<text x="873" y="263.1" textLength="141" lengthAdjust="spacingAndGlyphs">Resistance _ $55,000</text>
<text x="873" y="347.6" textLength="104" lengthAdjust="spacingAndGlyphs">Pivot _ $34,850</text>
<text x="873" y="373.5" textLength="235" lengthAdjust="spacingAndGlyphs">Support Range _ $29,500 - $28,500</text>
</g>
<!-- RSI note -->
<rect x="617.7" y="469.9" width="136.4" height="20.1" fill="#126660"/>
<text class="t lab" x="620.6" y="484.9" textLength="130.6" lengthAdjust="spacingAndGlyphs">RSI may remain &gt;50</text>
<!-- VSTAR logo -->
<defs>
<linearGradient id="vb1" x1="0" y1="0" x2="1" y2="1"><stop offset="0" stop-color="#3a8cf7"/><stop offset="1" stop-color="#2d7ff2"/></linearGradient>
<linearGradient id="vb2" x1="0" y1="0" x2="0" y2="1"><stop offset="0" stop-color="#1a56d0"/><stop offset="0.5" stop-color="#2f84f6"/><stop offset="1" stop-color="#3a8cf8"/></linearGradient>
</defs>
<path d="M4.6,75.8 L25.8,75.8 L19.8,85.1 L38.3,108.6 Q39.3,110 38.3,111.3 L31.2,120 Q30,121.3 28.9,120 L2,85.2 Q0.8,83.6 2,82 Z" fill="url(#vb1)"/>
<path d="M19.8,85.1 L38.3,108.6 Q39.3,110 38.3,111.3 L31.2,120 Q30,121.3 28.9,120 L13.5,100 Z" fill="url(#vb2)" opacity="0.55"/>
<path d="M35,75.8 L56.2,75.8 L59.4,80.8 Q60.3,82.6 59.2,84.2 L44.6,104 Q43.5,105.3 42.4,104 L34.6,95.2 Q33.9,94.3 34.6,93.4 L41.4,84.7 Z" fill="url(#vb1)"/>
<path d="M41.4,84.7 L48,97 L44.6,104 Q43.5,105.3 42.4,104 L34.6,95.2 Q33.9,94.3 34.6,93.4 Z" fill="url(#vb2)" opacity="0.55"/>
<g class="t" style="font-size:33px;fill:#000;stroke:#000;stroke-width:1.1"><text x="68" y="107.8" textLength="26.5" lengthAdjust="spacingAndGlyphs">V</text><text x="96.3" y="107.8" textLength="19" lengthAdjust="spacingAndGlyphs">S</text><text x="118.5" y="107.8" textLength="20" lengthAdjust="spacingAndGlyphs">T</text><text x="137.6" y="107.8" textLength="26.5" lengthAdjust="spacingAndGlyphs">A</text><text x="167" y="107.8" textLength="21" lengthAdjust="spacingAndGlyphs">R</text></g>
<path d="M149.6,95.6 L154.6,95.6 L157.4,102.4 L146.8,102.4 Z" fill="#fff"/>
<!-- bitcoin logo -->
<circle cx="29.5" cy="155.2" r="27.7" fill="#f7931a"/>
<g transform="rotate(14 29.5 155.2)">
<text class="t" x="29.3" y="169.2" text-anchor="middle" style="font-size:39px;font-weight:bold;fill:#fff;stroke:#fff;stroke-width:0.8">B</text>
<rect x="23.6" y="135.6" width="3.2" height="7" fill="#fff"/><rect x="29.6" y="135.6" width="3.2" height="7" fill="#fff"/>
<rect x="23.6" y="167" width="3.2" height="7" fill="#fff"/><rect x="29.6" y="167" width="3.2" height="7" fill="#fff"/>
</g>
<g style="font-family:'DejaVu Sans','Liberation Sans',sans-serif;font-size:74.5px;font-weight:bold;font-style:italic;fill:#c9c9c9"><text x="57.5" y="184" textLength="38.5" lengthAdjust="spacingAndGlyphs">b</text><text x="95.5" y="184" textLength="22" lengthAdjust="spacingAndGlyphs">i</text><text x="116" y="184" textLength="28" lengthAdjust="spacingAndGlyphs">t</text><text x="144.5" y="184" textLength="31.5" lengthAdjust="spacingAndGlyphs">c</text><text x="175" y="184" textLength="36" lengthAdjust="spacingAndGlyphs">o</text><text x="210.5" y="184" textLength="22" lengthAdjust="spacingAndGlyphs">i</text><text x="229" y="184" textLength="37" lengthAdjust="spacingAndGlyphs">n</text></g>
<text x="276" y="183.2" textLength="172.3" lengthAdjust="spacingAndGlyphs" style="font-family:'DejaVu Sans','Liberation Sans',sans-serif;font-weight:200;font-size:41.5px;fill:#000;stroke:#000;stroke-width:1">Outlook</text>
<text class="t" x="460" y="183.2" textLength="108" lengthAdjust="spacingAndGlyphs" style="font-size:45px;font-weight:bold;fill:#000">2024</text>
<!-- PBOGA logo -->
<circle cx="1038.6" cy="26.3" r="23.6" fill="#000"/>
<path d="M1038.4,10.6 L1055,24 L1055,27.6 L1049.8,27.6 L1049.8,24.6 L1027.1,24.6 L1027.1,27.6 L1021.8,27.6 L1021.8,24 Z" fill="#fdc300"/>
<path d="M1038.4,24.8 L1049.4,33.3 L1049.4,36.6 L1044,36.6 L1044,32.6 L1032.8,32.6 L1032.8,36.6 L1027.5,36.6 L1027.5,33.3 Z" fill="#fdc300"/>
<path d="M1033.2,38.6 L1043.4,38.6 L1038.4,43.2 Z" fill="#fdc300"/>
<text class="t" x="1071.5" y="41.6" textLength="155" lengthAdjust="spacingAndGlyphs" style="font-size:42px;font-weight:bold;fill:#000">PBOGA</text>
<!-- watermark -->
<text class="t" x="1128.5" y="586" textLength="93" lengthAdjust="spacingAndGlyphs" style="font-size:27px;fill:none;stroke:#858585;stroke-width:0.6">@pboga_</text>
<path d="M1104,566.8 L1113,566.5 Q1119.6,566.5 1119.5,573 L1119.3,580 Q1119,585.6 1112.6,586.4 L1108,589.8 M1107.5,570.5 Q1103.6,571.5 1103.9,577 M1102.5,576.5 L1103.2,575.6 M1103.9,579 L1104.4,586.5" fill="none" stroke="#5a5a5a" stroke-width="0.8" opacity="0.8"/>
</svg>
</body></html>
